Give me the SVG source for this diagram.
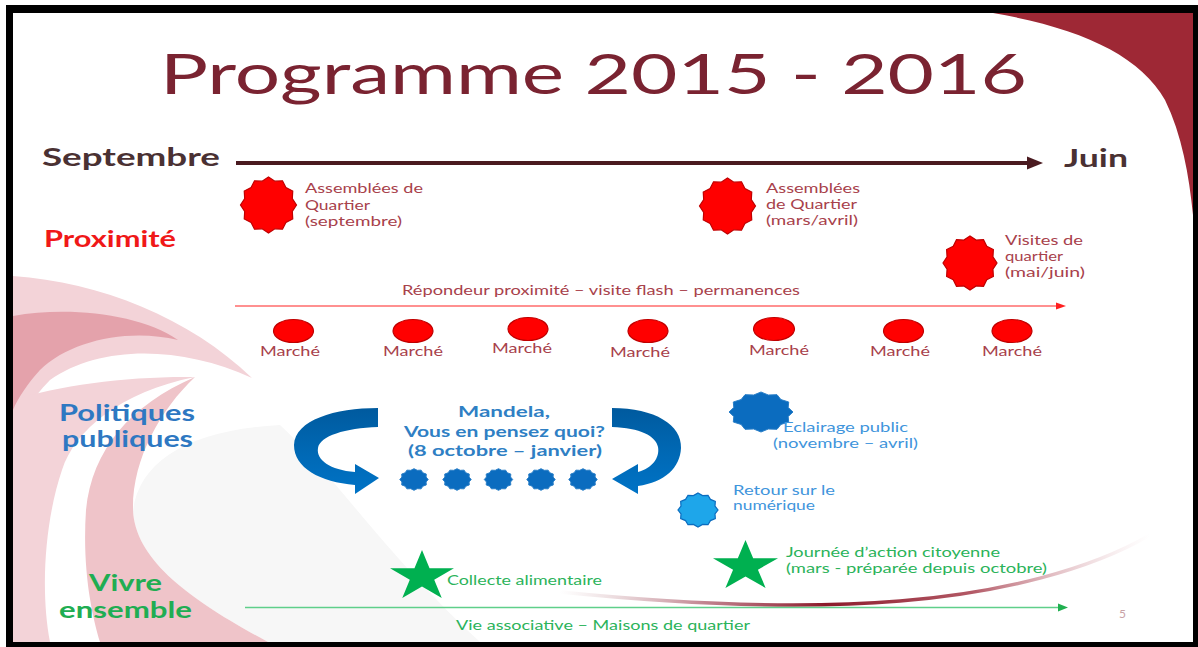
<svg xmlns="http://www.w3.org/2000/svg" width="1198" height="647" viewBox="0 0 1198 647">
<defs>
<style>
.t{font-family:Lato,"Open Sans","Liberation Sans",sans-serif}
.sm{font-size:13px}
.rd{fill:#a8414b}
.bl{fill:#3f95dc}
.gr{fill:#2bb35a}
.hd{font-weight:bold;font-size:22px}
.rseal{fill:#ff0000;stroke:#c00000;stroke-width:1.2}
.bseal{fill:#0b6cbf;stroke:#2a7fc8;stroke-width:1}
.mk{fill:#ff0000;stroke:#c00000;stroke-width:1.2}
.star{fill:#00b050}
</style>
<polygon id="seal" vector-effect="non-scaling-stroke" points="0,-100 22.8,-85 50,-86.6 62.2,-62.2 86.6,-50 85,-22.8 100,0 85,22.8 86.6,50 62.2,62.2 50,86.6 22.8,85 0,100 -22.8,85 -50,86.6 -62.2,62.2 -86.6,50 -85,22.8 -100,0 -85,-22.8 -86.6,-50 -62.2,-62.2 -50,-86.6 -22.8,-85"/>
<polygon id="star5" points="0,-100 22.45,-30.9 95.11,-30.9 36.33,11.8 58.78,80.9 0,38.2 -58.78,80.9 -36.33,11.8 -95.11,-30.9 -22.45,-30.9"/>
<linearGradient id="swg" gradientUnits="userSpaceOnUse" x1="560" y1="0" x2="1150" y2="0">
<stop offset="0" stop-color="#c8a0a5" stop-opacity="0"/>
<stop offset="0.25" stop-color="#b06070" stop-opacity="0.8"/>
<stop offset="0.45" stop-color="#8b1a2a"/>
<stop offset="0.7" stop-color="#a03040" stop-opacity="0.8"/>
<stop offset="1" stop-color="#e0b0b8" stop-opacity="0"/>
</linearGradient>
<linearGradient id="arrg" x1="0" y1="0" x2="0" y2="1">
<stop offset="0" stop-color="#005a9e"/>
<stop offset="0.5" stop-color="#0068b4"/>
<stop offset="1" stop-color="#0073c6"/>
</linearGradient>
</defs>

<g id="background">
<rect x="0" y="0" width="1198" height="647" fill="#ffffff"/>
<path d="M 133 510 C 140 460 190 430 280 425 C 330 470 390 560 480 642 L 268 642 C 190 600 135 560 133 510 Z" fill="#f7f7f7"/>
<path d="M 13 276 C 100 282 190 318 252 378 C 180 345 100 345 50 380 C 30 400 20 420 13 440 Z" fill="#f3d3d8"/>
<path d="M 195 377 C 120 392 75 430 62 470 C 45 520 40 590 50 642 L 13 642 L 13 400 C 60 385 130 376 195 377 Z" fill="#f3d3d8"/>
<path d="M 13 316 C 70 306 140 314 178 340 C 130 328 70 340 40 370 C 28 383 18 398 13 410 Z" fill="#e4a2ab"/>
<path d="M 195 377 C 130 405 92 450 86 510 C 82 570 92 615 100 642 L 268 642 C 190 600 135 560 133 510 C 132 460 160 410 195 377 Z" fill="#efc4c9"/>
<path d="M 993 13 C 1080 28 1140 55 1165 100 C 1182 135 1189 175 1193 215 L 1193 13 Z" fill="#9e2835"/>
<path d="M 560 592 C 680 604 800 609 900 601 C 1000 593 1090 570 1150 535" fill="none" stroke="url(#swg)" stroke-width="3.5"/>
<path d="M6 5 H1198 V647 H6 Z M13 13 V642 H1193 V13 Z" fill="#000000" fill-rule="evenodd"/>
</g>

<g id="title">
<text class="t" x="160" y="94" font-size="56" fill="#7a2331" textLength="867" lengthAdjust="spacingAndGlyphs">Programme 2015 - 2016</text>
</g>

<g id="connectors">
<line x1="236" y1="163" x2="1029" y2="163" stroke="#4a1a20" stroke-width="4"/>
<polygon points="1027,156.5 1043,163 1027,169.5" fill="#4a1a20"/>
<line x1="235" y1="306" x2="1058" y2="306" stroke="#ff6b6b" stroke-width="1.5"/>
<polygon points="1056,302.5 1066,306 1056,309.5" fill="#ff2020"/>
<line x1="245" y1="607.5" x2="1060" y2="607.5" stroke="#5fcf8a" stroke-width="1.5"/>
<polygon points="1058,603.5 1068,607.5 1058,611.5" fill="#20b050"/>
<path id="curved-left" d="M 378 408 C 335 408 295 420 294 445 C 294 468 320 482 355 485 L 355 494 L 379 478 L 355 464 L 355 472 C 330 470 316 460 318 448 C 320 436 345 428 378 427 Z" fill="url(#arrg)"/>
<path id="curved-right" d="M 612 408 C 655 408 682 425 681 448 C 680 468 665 482 638 486 L 638 494 L 612 479 L 638 464 L 638 472 C 652 468 660 458 658 447 C 656 436 640 428 612 427 Z" fill="url(#arrg)"/>
</g>

<g id="axis-labels">
<text class="t" x="42" y="166" font-size="25" font-weight="bold" fill="#4a3133" textLength="178" lengthAdjust="spacingAndGlyphs">Septembre</text>
<text class="t" x="1064" y="167" font-size="25" font-weight="bold" fill="#4a3133" textLength="64" lengthAdjust="spacingAndGlyphs">Juin</text>
</g>

<g id="cat-proximite">
<text class="t hd" x="44" y="247" fill="#f01818" textLength="132" lengthAdjust="spacingAndGlyphs">Proximité</text>
</g>
<g id="cat-politiques">
<text class="t hd" x="59" y="421" font-size="21" fill="#2e78c2" textLength="136" lengthAdjust="spacingAndGlyphs">Politiques</text>
<text class="t hd" x="62" y="447" font-size="21" fill="#2e78c2" textLength="131" lengthAdjust="spacingAndGlyphs">publiques</text>
</g>
<g id="cat-vivre">
<text class="t hd" x="89" y="591" fill="#20ad52" textLength="73" lengthAdjust="spacingAndGlyphs">Vivre</text>
<text class="t hd" x="59" y="618" fill="#20ad52" textLength="133" lengthAdjust="spacingAndGlyphs">ensemble</text>
</g>

<g id="assemblees-sept">
<use href="#seal" class="rseal" transform="translate(268.5,205) scale(0.28)"/>
<text class="t sm rd" x="305" y="193" textLength="118" lengthAdjust="spacingAndGlyphs">Assemblées de</text>
<text class="t sm rd" x="305" y="210" textLength="65" lengthAdjust="spacingAndGlyphs">Quartier</text>
<text class="t sm rd" x="305" y="226" textLength="97" lengthAdjust="spacingAndGlyphs">(septembre)</text>
</g>
<g id="assemblees-mars">
<use href="#seal" class="rseal" transform="translate(727.5,206) scale(0.28)"/>
<text class="t sm rd" x="766" y="193" textLength="94" lengthAdjust="spacingAndGlyphs">Assemblées</text>
<text class="t sm rd" x="766" y="209" textLength="91" lengthAdjust="spacingAndGlyphs">de Quartier</text>
<text class="t sm rd" x="766" y="225" textLength="92" lengthAdjust="spacingAndGlyphs">(mars/avril)</text>
</g>
<g id="visites">
<use href="#seal" class="rseal" transform="translate(970,263) scale(0.27)"/>
<text class="t sm rd" x="1005" y="245" textLength="78" lengthAdjust="spacingAndGlyphs">Visites de</text>
<text class="t sm rd" x="1005" y="261" textLength="58" lengthAdjust="spacingAndGlyphs">quartier</text>
<text class="t sm rd" x="1005" y="277" textLength="80" lengthAdjust="spacingAndGlyphs">(mai/juin)</text>
</g>
<g id="repondeur">
<text class="t sm rd" x="402" y="295" textLength="398" lengthAdjust="spacingAndGlyphs">Répondeur proximité – visite flash – permanences</text>
</g>

<g id="marche-1"><ellipse class="mk" cx="293.5" cy="331" rx="20" ry="11.5"/><text class="t sm rd" x="290" y="356" text-anchor="middle" textLength="60" lengthAdjust="spacingAndGlyphs">Marché</text></g>
<g id="marche-2"><ellipse class="mk" cx="413" cy="331" rx="20" ry="11.5"/><text class="t sm rd" x="413" y="356" text-anchor="middle" textLength="60" lengthAdjust="spacingAndGlyphs">Marché</text></g>
<g id="marche-3"><ellipse class="mk" cx="528" cy="329" rx="20" ry="11.5"/><text class="t sm rd" x="522" y="353" text-anchor="middle" textLength="60" lengthAdjust="spacingAndGlyphs">Marché</text></g>
<g id="marche-4"><ellipse class="mk" cx="648" cy="331" rx="20" ry="11.5"/><text class="t sm rd" x="640" y="357" text-anchor="middle" textLength="60" lengthAdjust="spacingAndGlyphs">Marché</text></g>
<g id="marche-5"><ellipse class="mk" cx="774" cy="329" rx="20.5" ry="11.5"/><text class="t sm rd" x="779" y="355" text-anchor="middle" textLength="60" lengthAdjust="spacingAndGlyphs">Marché</text></g>
<g id="marche-6"><ellipse class="mk" cx="903.5" cy="331" rx="20" ry="11.5"/><text class="t sm rd" x="900" y="356" text-anchor="middle" textLength="60" lengthAdjust="spacingAndGlyphs">Marché</text></g>
<g id="marche-7"><ellipse class="mk" cx="1012" cy="331" rx="20" ry="11.5"/><text class="t sm rd" x="1012" y="356" text-anchor="middle" textLength="60" lengthAdjust="spacingAndGlyphs">Marché</text></g>

<g id="mandela">
<text class="t" x="504" y="417" font-size="15" font-weight="bold" fill="#2f7fc4" text-anchor="middle" textLength="92" lengthAdjust="spacingAndGlyphs">Mandela,</text>
<text class="t" x="504.5" y="437" font-size="15" font-weight="bold" fill="#2f7fc4" text-anchor="middle" textLength="201" lengthAdjust="spacingAndGlyphs">Vous en pensez quoi?</text>
<text class="t" x="505" y="456" font-size="15" font-weight="bold" fill="#2f7fc4" text-anchor="middle" textLength="194" lengthAdjust="spacingAndGlyphs">(8 octobre – janvier)</text>
<use href="#seal" class="bseal" transform="translate(414,479.5) scale(0.142,0.108)"/>
<use href="#seal" class="bseal" transform="translate(457,479.5) scale(0.142,0.108)"/>
<use href="#seal" class="bseal" transform="translate(498.5,479.5) scale(0.142,0.108)"/>
<use href="#seal" class="bseal" transform="translate(541,479.5) scale(0.142,0.108)"/>
<use href="#seal" class="bseal" transform="translate(583,479.5) scale(0.142,0.108)"/>
</g>

<g id="eclairage">
<use href="#seal" class="bseal" transform="translate(761,412) scale(0.32,0.2)"/>
<text class="t sm bl" x="783" y="432" textLength="125" lengthAdjust="spacingAndGlyphs">Eclairage public</text>
<text class="t sm bl" x="773" y="448" textLength="145" lengthAdjust="spacingAndGlyphs">(novembre – avril)</text>
</g>
<g id="retour">
<use href="#seal" transform="translate(698,510) scale(0.2,0.17)" fill="#1ea6ea" stroke="#0b6cbf" stroke-width="1.2"/>
<text class="t sm bl" x="733" y="495" textLength="102" lengthAdjust="spacingAndGlyphs">Retour sur le</text>
<text class="t sm bl" x="733" y="510" textLength="82" lengthAdjust="spacingAndGlyphs">numérique</text>
</g>

<g id="collecte">
<use href="#star5" class="star" transform="translate(422,576.5) scale(0.336,0.265)"/>
<text class="t sm gr" x="447" y="585" textLength="155" lengthAdjust="spacingAndGlyphs">Collecte alimentaire</text>
</g>
<g id="journee">
<use href="#star5" class="star" transform="translate(745.5,566.5) scale(0.342,0.265)"/>
<text class="t sm gr" x="786" y="557" textLength="214" lengthAdjust="spacingAndGlyphs">Journée d’action citoyenne</text>
<text class="t sm gr" x="786" y="573" textLength="261" lengthAdjust="spacingAndGlyphs">(mars - préparée depuis octobre)</text>
</g>
<g id="vie-associative">
<text class="t sm gr" x="456" y="630" textLength="294" lengthAdjust="spacingAndGlyphs">Vie associative – Maisons de quartier</text>
</g>
<g id="page-number">
<text class="t" x="1119" y="618" font-size="12" fill="#c9a2a6">5</text>
</g>
</svg>
